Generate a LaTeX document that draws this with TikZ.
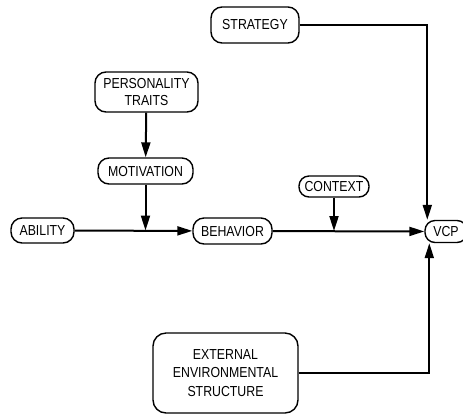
\documentclass[tikz,border=0pt]{standalone}
\usepackage{fontspec}
\setmainfont{Liberation Sans}[FakeStretch=0.85]
\usetikzlibrary{calc,arrows.meta}
\begin{document}
\begin{tikzpicture}[x=1bp,y=-1bp,
  box/.style={draw,line width=1.4bp,rounded corners=11bp,inner sep=0pt,align=center,
    font=\fontsize{14.5bp}{17.5bp}\selectfont},
  conn/.style={line width=2bp},
  arr/.style={conn,-{Triangle[length=15bp,width=9bp]}}]
\useasboundingbox (0,0) rectangle (463,414);
\node[box,minimum width=88bp,minimum height=36bp] (strategy) at (255,25) {STRATEGY};
\node[box,minimum width=103bp,minimum height=40bp] (pers) at (146.5,92) {PERSONALITY\\TRAITS};
\node[box,minimum width=95bp,minimum height=26bp] (motiv) at (145.5,171) {MOTIVATION};
\node[box,minimum width=70bp,minimum height=21bp,rounded corners=10bp] (context) at (334,186.5) {CONTEXT};
\node[box,minimum width=63bp,minimum height=25bp] (ability) at (42.5,230.5) {ABILITY};
\node[box,minimum width=79bp,minimum height=26bp] (behavior) at (232.5,231) {BEHAVIOR};
\node[box,minimum width=42bp,minimum height=22bp,rounded corners=10bp] (vcp) at (446,231.5) {VCP};
\node[box,minimum width=145bp,minimum height=80bp,rounded corners=13bp,
  font=\fontsize{14.5bp}{18.5bp}\selectfont] (ees) at (225.5,373) {EXTERNAL\\ENVIRONMENTAL\\STRUCTURE};
\coordinate (j1) at (motiv.south |- ability.east);
\coordinate (j2) at (context.south |- behavior.east);
\coordinate (vt) at ($(vcp.north west)+(3,0)$);
\coordinate (vb) at ($(vcp.south west)+(5,0)$);
\draw[arr] (pers) -- (motiv);
\draw[arr] (motiv) -- (j1);
\draw[arr] (ability) -- (behavior);
\draw[arr] (context) -- (j2);
\draw[arr] (behavior) -- (vcp);
\draw[arr] (strategy.east) -| (vt);
\draw[arr] (ees.east) -| (vb);
\end{tikzpicture}
\end{document}
